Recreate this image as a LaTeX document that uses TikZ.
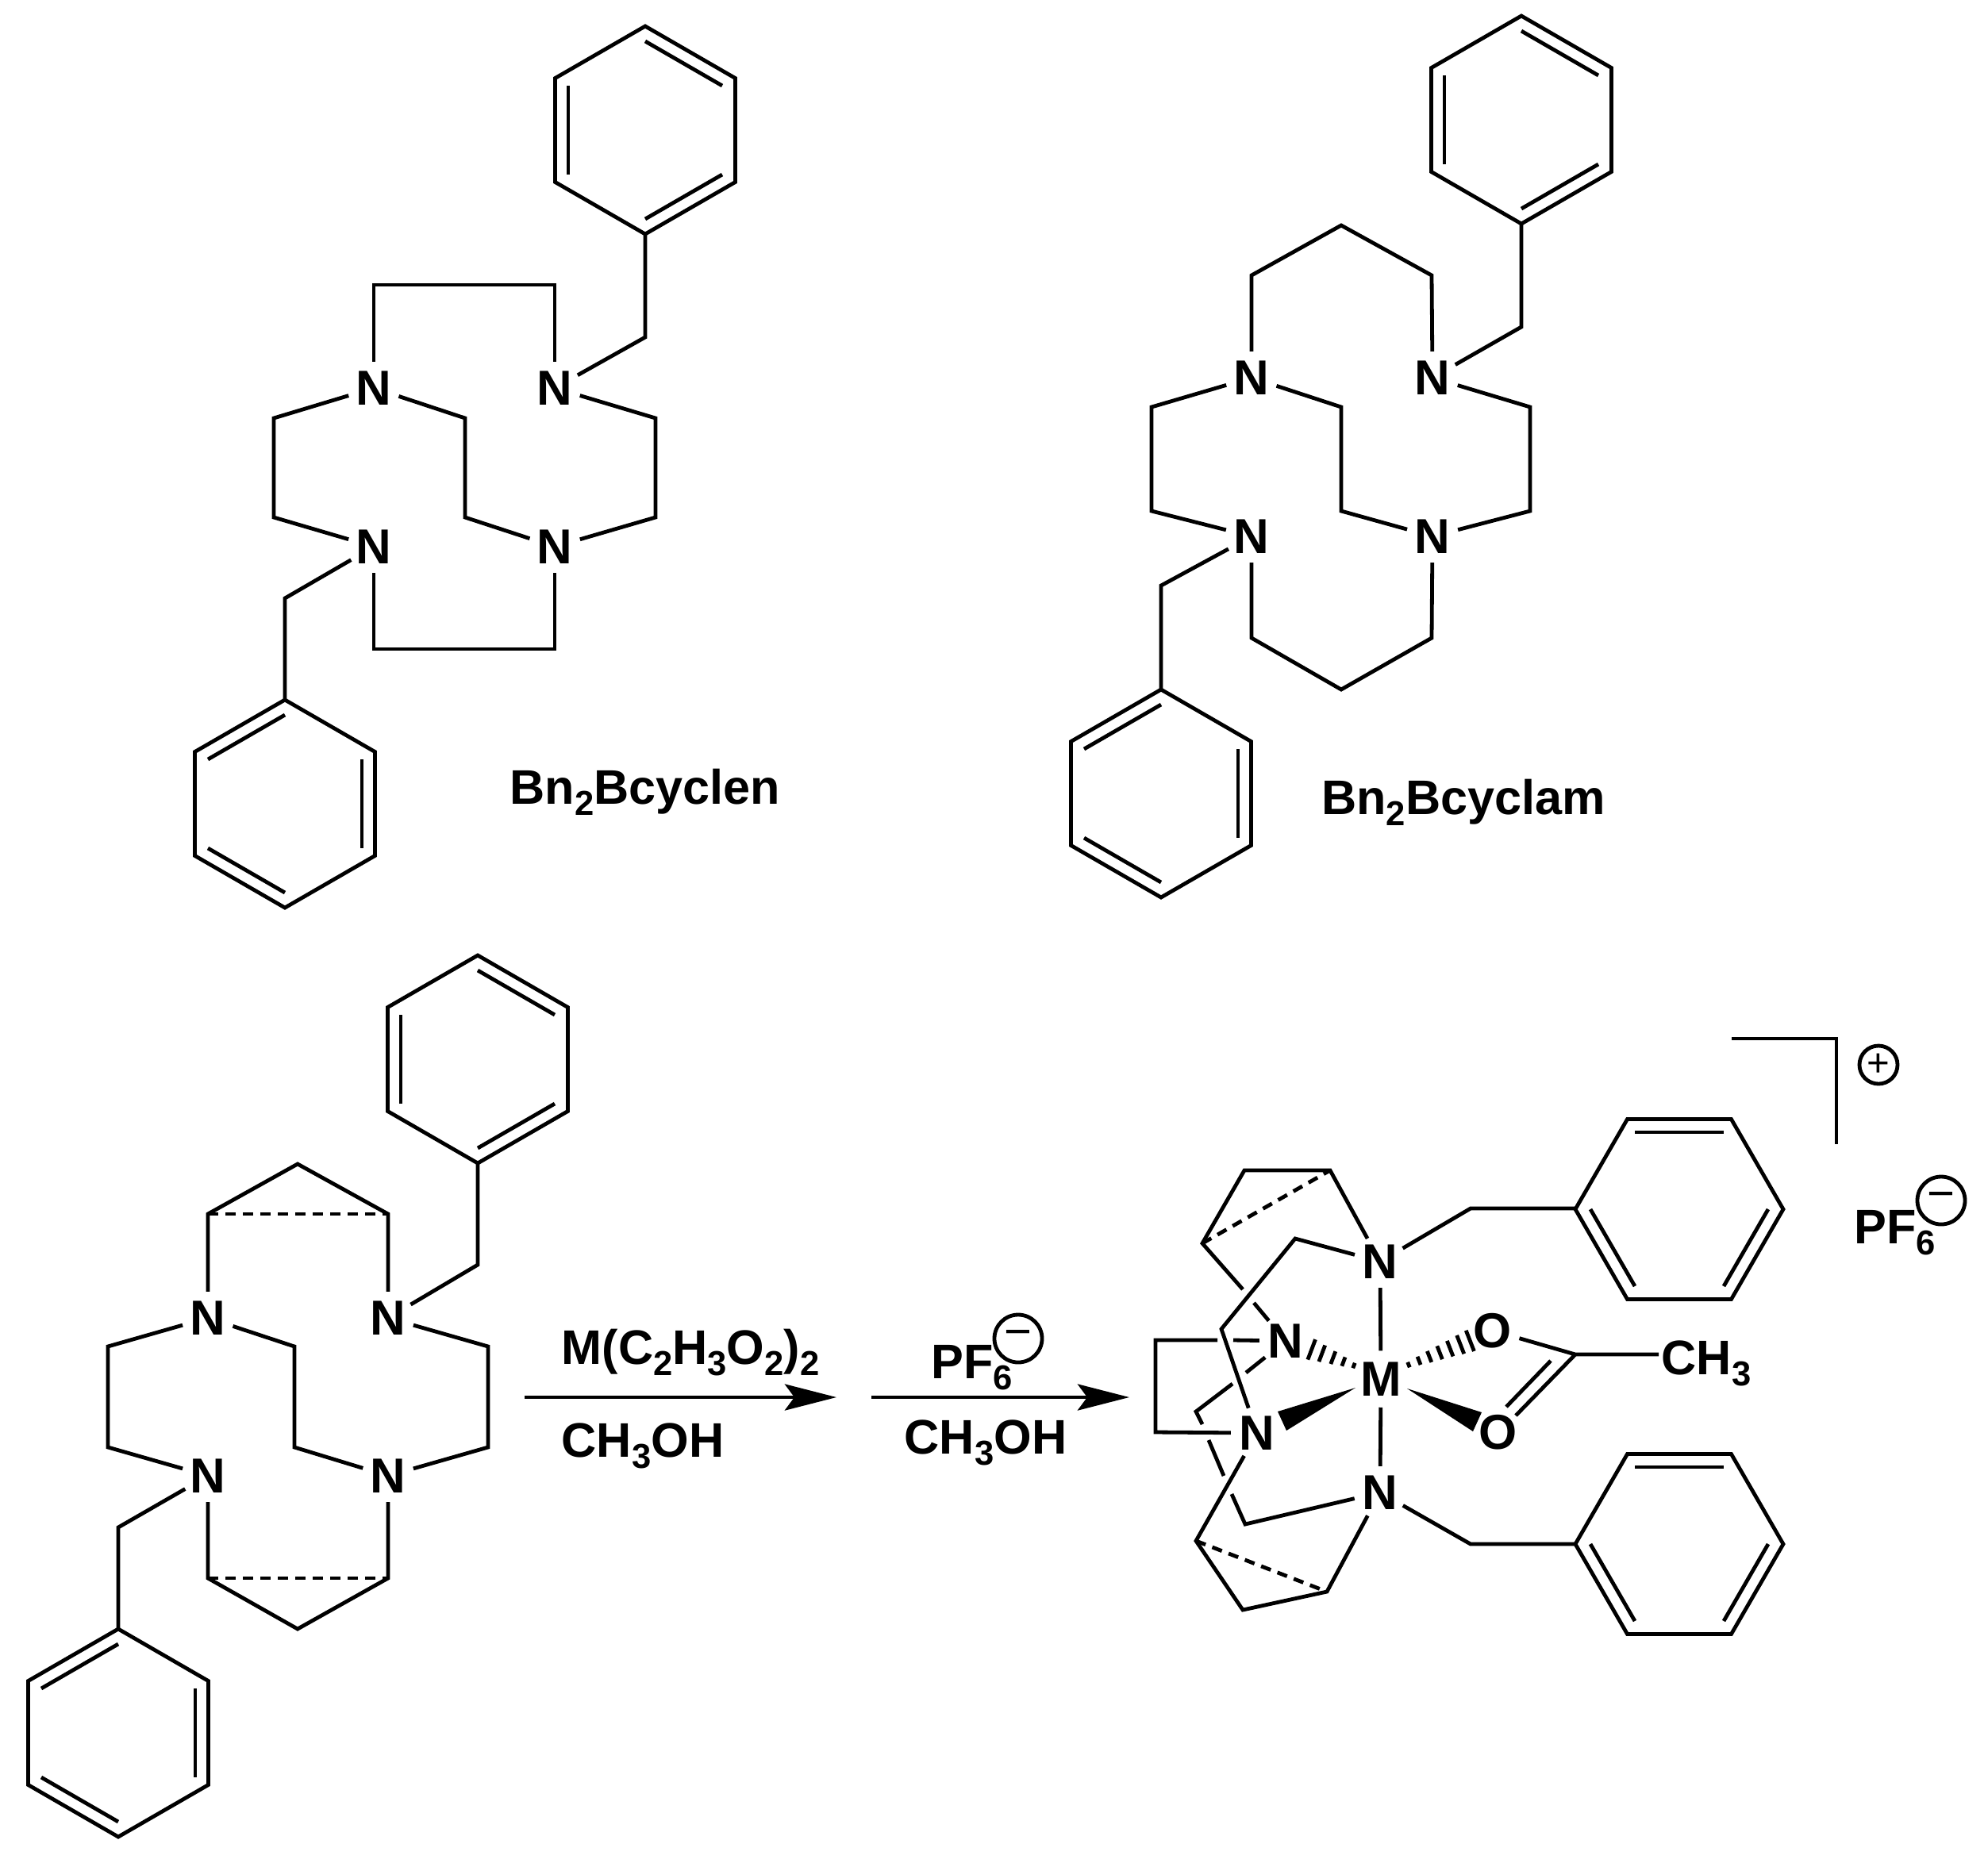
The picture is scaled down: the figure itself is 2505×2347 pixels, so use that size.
\documentclass[tikz,border=0pt]{standalone}
\usepackage{fontspec}
\setmainfont{Liberation Sans}
\usetikzlibrary{arrows.meta}
\newcommand{\lowsub}[1]{\raisebox{-0.24em}{\fontsize{12.4}{13}\selectfont #1}}
\tikzset{
    atom/.style={circle, inner sep=0pt, minimum size=0.6cm, font=\fontsize{17.6}{20}\selectfont\bfseries},
    label text/.style={inner sep=0pt, anchor=base, font=\fontsize{17.4}{20}\selectfont\bfseries},
    charge ring/.style={circle, draw, inner sep=0pt, font=\fontsize{17}{20}\selectfont},
    rxn arrow/.style={-{Stealth[length=0.65cm, width=0.33cm, inset=0.12cm]}},
    hidden bond/.style={dash pattern=on 0.13cm off 0.09cm}
}
\begin{document}
\begin{tikzpicture}[x=0.01cm, y=-0.01cm, line width=0.048cm]
        \useasboundingbox (0,0) rectangle (2505,2347);

        % Phenyl rings: centre, first vertex angle, first double bond
        \foreach \cx/\cy/\rot/\first in {813/164/-90/0, 359/1013/-90/1, 1917/151/-90/0, 1463/1000/-90/1,
                602/1335/-90/0, 149/2184/-90/1, 2116/1524/-120/0, 2116/1946/-120/0} {
            \begin{scope}[shift={(\cx,\cy)}]
                \draw (\rot:131) -- ({\rot+60}:131) -- ({\rot+120}:131) -- ({\rot+180}:131) -- ({\rot+240}:131) -- ({\rot+300}:131) -- cycle;
                \foreach \k in {0,2,4}
                    \draw ({\rot+(\first+\k)*60}:112) -- ({\rot+(\first+\k+1)*60}:112);
            \end{scope}
        }

        % Bn2Bcyclen
        \node[atom] (cnA) at (471,489) {N};
        \node[atom] (cnB) at (699,489) {N};
        \node[atom] (cnC) at (471,689) {N};
        \node[atom] (cnD) at (699,689) {N};
        \draw (cnA) -- (471,359) -- (699,359) -- (cnB);
        \draw (cnB) -- (826,527) -- (826,652) -- (cnD);
        \draw (cnD) -- (586,652) -- (586,527) -- (cnA);
        \draw (cnA) -- (345,527) -- (345,652) -- (cnC);
        \draw (cnC) -- (471,818) -- (699,818) -- (cnD);
        \draw (cnB) -- (813,425) -- (813,295);
        \draw (cnC) -- (359,754) -- (359,882);
        \node[label text] (cnName) at (813,1013) {Bn\lowsub{2}Bcyclen};

        % Bn2Bcyclam
        \node[atom] (cmA) at (1577,476) {N};
        \node[atom] (cmB) at (1805,476) {N};
        \node[atom] (cmC) at (1577,676) {N};
        \node[atom] (cmD) at (1805,676) {N};
        \draw (cmA) -- (1577,347) -- (1690,284) -- (1804,347) -- (cmB);
        \draw (cmB) -- (1928,513) -- (1928,644) -- (cmD);
        \draw (cmD) -- (1690,644) -- (1690,513) -- (cmA);
        \draw (cmA) -- (1451,513) -- (1451,644) -- (cmC);
        \draw (cmC) -- (1577,804) -- (1690,869) -- (1804,804) -- (cmD);
        \draw (cmB) -- (1917,412) -- (1917,282);
        \draw (cmC) -- (1463,738) -- (1463,869);
        \node[label text] (cmName) at (1844,1026) {Bn\lowsub{2}Bcyclam};

        % Ligand in front of the arrows
        \node[atom] (lgA) at (262,1661) {N};
        \node[atom] (lgB) at (489,1661) {N};
        \node[atom] (lgC) at (262,1860) {N};
        \node[atom] (lgD) at (489,1860) {N};
        \draw (lgA) -- (262,1530) -- (375,1467) -- (489,1530) -- (lgB);
        \draw[hidden bond] (262,1530) -- (489,1530);
        \draw (lgC) -- (262,1989) -- (375,2053) -- (489,1989) -- (lgD);
        \draw[hidden bond] (262,1989) -- (489,1989);
        \draw (lgB) -- (615,1697) -- (615,1824) -- (lgD);
        \draw (lgD) -- (371,1824) -- (371,1697) -- (lgA);
        \draw (lgA) -- (136,1697) -- (136,1824) -- (lgC);
        \draw (lgB) -- (602,1594) -- (602,1466);
        \draw (lgC) -- (149,1925) -- (149,2053);

        % Reaction arrows and conditions
        \coordinate (arrAfrom) at (661,1761);
        \coordinate (arrAto) at (1054,1761);
        \coordinate (arrBfrom) at (1098,1761);
        \coordinate (arrBto) at (1423,1761);
        \draw[rxn arrow] (arrAfrom) -- (arrAto);
        \draw[rxn arrow] (arrBfrom) -- (arrBto);
        \node[label text] (reagent) at (870,1719) {M(C\lowsub{2}H\lowsub{3}O\lowsub{2})\lowsub{2}};
        \node[label text] (solvA) at (810,1836) {CH\lowsub{3}OH};
        \node[label text] (salt) at (1225,1737) {PF\lowsub{6}};
        \node[charge ring, minimum size=0.6cm] (saltCharge) at (1283,1687) {−};
        \node[label text] (solvB) at (1242,1832) {CH\lowsub{3}OH};

        % Metal complex
        \node[atom] (metal) at (1740,1738) {M};
        \node[atom] (nTop) at (1739,1590) {N};
        \node[atom] (nBot) at (1739,1881) {N};
        \node[atom] (nLeft) at (1620,1690) {N};
        \node[atom] (nLow) at (1584,1806) {N};
        \node[atom] (oUp) at (1881,1677) {O};
        \node[atom] (oDown) at (1888,1805) {O};
        \coordinate (acC) at (1985,1707);
        \node[label text] (methyl) at (2150,1732) {CH\lowsub{3}};

        \draw (nTop) -- (metal);
        \draw (metal) -- (nBot);
        \fill (1708,1749) -- (1610,1779) -- (1621,1803) -- cycle;
        \fill (1773,1750) -- (1867,1780) -- (1856,1804) -- cycle;
        \begin{scope}[shift={(1706,1721)}, rotate=159.3]
            \foreach \x/\w in {0/3.5, 14/6, 28/8.5, 43/11, 57/13.6}
                \draw (\x,-\w) -- (\x,\w);
        \end{scope}
        \begin{scope}[shift={(1775,1720)}, rotate=21.3]
            \foreach \x/\w in {0/3.5, 14/5.5, 28/7.5, 42/9, 56/10.5, 70/12.5, 83/14}
                \draw (\x,-\w) -- (\x,\w);
        \end{scope}

        % Acetate
        \draw (oUp) -- (acC) -- (2090,1707);
        \draw (acC) -- (1910,1784);
        \draw (1954,1715) -- (1898,1773);

        % Macrocycle, broken where it passes behind
        \draw (nTop) -- (1676,1475) -- (1568,1475) -- (1515,1567) -- (1566,1625);
        \draw[hidden bond] (1515,1567) -- (1676,1475);
        \draw (1580,1642) -- (nLeft);
        \draw (nTop) -- (1632,1561) -- (1539,1675) -- (nLow);
        \draw (nLeft) -- (1554,1689);
        \draw (1534,1689) -- (1456,1689) -- (1456,1805) -- (nLow);
        \draw (nLeft) -- (1570,1730);
        \draw (1553,1744) -- (1507,1779) -- (1515,1795);
        \draw (1523,1815) -- (1542,1860);
        \draw (1552,1883) -- (1569,1921) -- (nBot);
        \draw (nLow) -- (1507,1942) -- (1566,2029) -- (1672,2006) -- (nBot);
        \draw[hidden bond] (1507,1942) -- (1672,2006);

        % Benzyl arms
        \draw (nTop) -- (1853,1523) -- (1985,1523);
        \draw (nBot) -- (1853,1946) -- (1985,1946);

        % Bracket, charge and counter ion
        \draw (2182,1309) -- (2314,1309) -- (2314,1442);
        \node[charge ring, minimum size=0.48cm, font=\fontsize{14}{16}\selectfont] (cationCharge) at (2367,1342) {+};
        \node[label text] (counter) at (2388,1567) {PF\lowsub{6}};
        \node[charge ring, minimum size=0.6cm] (counterCharge) at (2446,1513) {−};

    \end{tikzpicture}
\end{document}
